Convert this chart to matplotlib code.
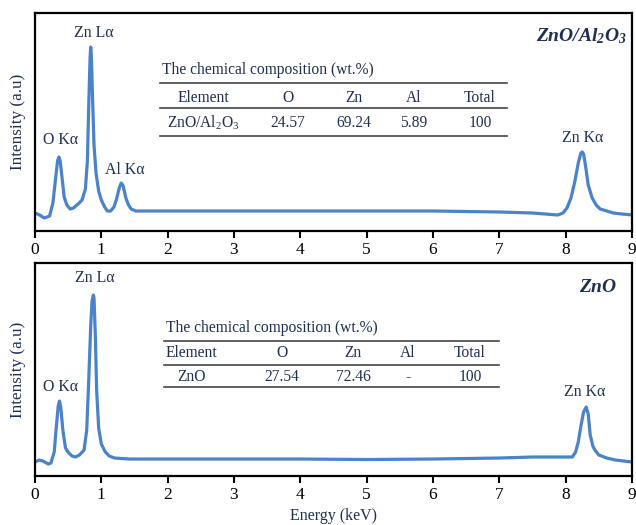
import matplotlib
matplotlib.use("Agg")
import matplotlib.pyplot as plt

plt.rcParams["font.family"] = ["Liberation Serif", "DejaVu Serif"]
plt.rcParams["mathtext.fontset"] = "custom"
plt.rcParams["mathtext.rm"] = "Liberation Serif"
plt.rcParams["mathtext.it"] = "Liberation Serif:italic"
plt.rcParams["mathtext.bf"] = "Liberation Serif:bold"
plt.rcParams["mathtext.bfit"] = "Liberation Serif:italic:bold"

# spectrum of ZnO/Al2O3 (energy in keV, intensity in a.u.)
energy_al = [0.0, 0.07, 0.14, 0.22, 0.27, 0.31, 0.34, 0.36, 0.38, 0.41, 0.44, 0.48, 0.53,
             0.58, 0.65, 0.71, 0.76, 0.79, 0.81, 0.83, 0.84, 0.85, 0.87, 0.89, 0.92,
             0.96, 1.0, 1.05, 1.09, 1.14, 1.19, 1.23, 1.27, 1.30, 1.33, 1.37, 1.41,
             1.45, 1.52, 1.6, 2.0, 3.0, 4.0, 5.0, 6.0, 7.0, 7.5, 7.88, 7.96, 8.02,
             8.08, 8.14, 8.19, 8.23, 8.25, 8.27, 8.30, 8.34, 8.40, 8.46, 8.52, 8.62,
             8.72, 8.85, 9.0]
intensity_al = [18, 16, 13, 15, 28, 52, 70, 74, 70, 52, 34, 26, 22,
                23, 27, 31, 42, 70, 125, 172, 184, 175, 128, 86, 58,
                40, 31, 24, 20, 20, 24, 32, 43, 48, 45, 33, 26,
                22, 20, 20, 20, 20, 20, 20, 20, 19, 18, 16, 18, 23,
                33, 50, 68, 78, 79, 77, 65, 46, 33, 26, 22, 20,
                18, 17, 16]

# spectrum of ZnO
energy_zn = [0.0, 0.06, 0.12, 0.2, 0.24, 0.29, 0.32, 0.35, 0.37, 0.39, 0.42, 0.46, 0.51,
             0.56, 0.61, 0.67, 0.74, 0.78, 0.81, 0.84, 0.86, 0.88, 0.89, 0.91, 0.93,
             0.96, 1.0, 1.06, 1.12, 1.2, 1.42, 2.0, 3.0, 4.0, 5.0, 6.0, 7.0, 7.5,
             8.1, 8.15, 8.19, 8.23, 8.27, 8.31, 8.34, 8.37, 8.41, 8.44, 8.5, 8.62,
             8.75, 9.0]
intensity_zn = [14, 16, 15, 12, 13, 24, 48, 70, 75, 68, 46, 28, 23,
                20, 19, 21, 26, 46, 95, 150, 175, 181, 178, 140, 85,
                48, 32, 24, 20, 18, 17, 17, 17, 17, 16.5, 17, 18, 19,
                19, 24, 34, 50, 64, 69, 62, 41, 30, 26, 21, 18,
                16, 14]

ticks = list(range(10))
columns = ["Element", "O", "Zn", "Al", "Total"]
row_al = ["ZnO/Al$_\\mathrm{2}$O$_\\mathrm{3}$", "24.57", "69.24", "5.89", "100"]
row_zn = ["ZnO", "27.54", "72.46", "-", "100"]

line_color = "#4a83c9"
text_color = "#1e2f52"

fig = plt.figure(figsize=(6.36, 5.25), dpi=100)
ax1 = fig.add_axes([0.055, 0.56, 0.9387, 0.4152])
ax2 = fig.add_axes([0.055, 0.0933, 0.9387, 0.4057])


def style_axes(ax, ytop):
    ax.set_xlim(0, 9)
    ax.set_ylim(0, ytop)
    ax.set_xticks(ticks)
    ax.set_yticks([])
    for s in ax.spines.values():
        s.set_linewidth(1.6)
        s.set_color("black")
    ax.tick_params(axis="x", direction="out", length=5, width=1.5, labelsize=12.5, pad=3)
    ax.set_ylabel("Intensity (a.u)", fontsize=12.3, color=text_color)
    ax.yaxis.set_label_coords(-0.015, 0.5)


def draw_table(ax, x_left, x_right, y_title, y_lines, y_head, y_data, col_x, row):
    kw = dict(transform=ax.transAxes, fontsize=11.2, color=text_color, va="center")
    ax.text(x_left, y_title, "The chemical composition (wt.%)", ha="left", **kw)
    for yl in y_lines:
        ax.plot([x_left - 0.004, x_right], [yl, yl], transform=ax.transAxes,
                color="#454545", lw=1.2, clip_on=False)
    for cx, head, val in zip(col_x, columns, row):
        ax.text(cx, y_head, head, ha="center", **kw)
        ax.text(cx, y_data, val, ha="center", **kw)


# top panel: ZnO/Al2O3
style_axes(ax1, 218)
ax1.plot(energy_al, intensity_al, color=line_color, lw=2.3, solid_joinstyle="round")
lab = dict(fontsize=11.4, color=text_color, ha="center", va="center")
ax1.text(0.89, 198, "Zn Lα", **lab)
ax1.text(0.39, 91, "O Kα", **lab)
ax1.text(1.36, 61, "Al Kα", **lab)
ax1.text(8.26, 93, "Zn Kα", **lab)
ax1.text(0.992, 0.894, r"$\mathbfit{ZnO/Al_2O_3}$", transform=ax1.transAxes,
         fontsize=14, color=text_color, ha="right", va="center")
draw_table(ax1, 0.2127, 0.7906, 0.7385, [0.679, 0.564, 0.436], 0.610, 0.495,
           [0.2814, 0.4238, 0.5343, 0.6348, 0.7454], row_al)

# bottom panel: ZnO
style_axes(ax2, 213)
ax2.plot(energy_zn, intensity_zn, color=line_color, lw=2.3, solid_joinstyle="round")
ax2.text(0.90, 198, "Zn Lα", **lab)
ax2.text(0.38, 89, "O Kα", **lab)
ax2.text(8.29, 84, "Zn Kα", **lab)
ax2.text(0.975, 0.883, r"$\mathbfit{ZnO}$", transform=ax2.transAxes,
         fontsize=14, color=text_color, ha="right", va="center")
draw_table(ax2, 0.2194, 0.7772, 0.6948, [0.6338, 0.521, 0.4178], 0.5775, 0.4648,
           [0.262, 0.4137, 0.5327, 0.6248, 0.7286], row_zn)
ax2.set_xlabel("Energy (keV)", fontsize=11.5, color=text_color)
ax2.xaxis.set_label_coords(0.5, -0.148)

fig.savefig("out.png", dpi=100)
